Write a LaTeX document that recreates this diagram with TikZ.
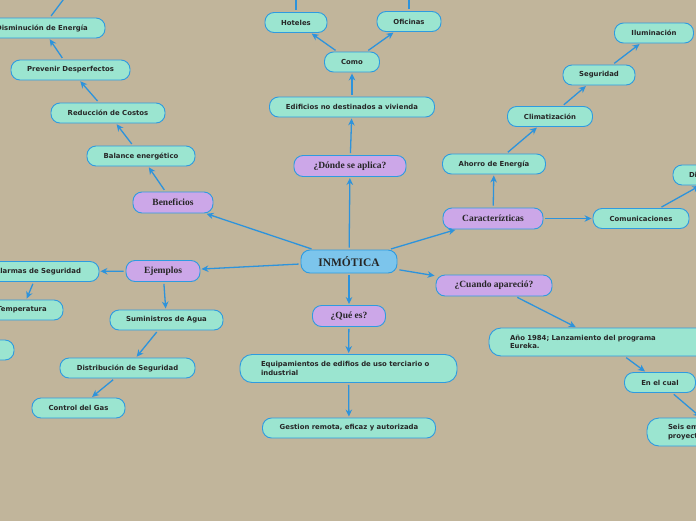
\documentclass[tikz,border=0pt]{standalone}
\usepackage{fontspec}
\usetikzlibrary{arrows.meta}
\newfontfamily\gfont{DejaVu Sans}
\newfontfamily\sfont{Liberation Serif}
\definecolor{bgc}{RGB}{193,181,155}
\definecolor{gfill}{RGB}{155,229,208}
\definecolor{pfill}{RGB}{204,167,232}
\definecolor{mfill}{RGB}{124,197,236}
\definecolor{edge}{RGB}{46,155,224}
\definecolor{lnc}{RGB}{45,147,220}
\tikzset{
 gn/.style={draw=edge, fill=gfill, line width=0.9pt, rounded corners=9pt, minimum height=20pt, inner sep=0pt, font=\gfont\bfseries\fontsize{6.9}{8.3}\selectfont, text=black!85},
 gml/.style={gn, align=left, inner xsep=21pt, minimum height=28pt, rounded corners=12pt},
 pn/.style={draw=edge, fill=pfill, line width=0.9pt, rounded corners=9pt, minimum height=21pt, inner sep=0pt, font=\sfont\bfseries\fontsize{9.5}{11}\selectfont, text=black!85},
 mn/.style={pn, fill=mfill, minimum height=23pt, font=\sfont\bfseries\fontsize{11.5}{13}\selectfont},
 con/.style={draw=lnc, line width=1.3pt, -{Stealth[length=7pt,width=6.5pt]}, shorten <=2pt, shorten >=1pt},
}
\begin{document}
\begin{tikzpicture}[x=1pt,y=-1pt]
\useasboundingbox (0,0) rectangle (696,520);
\clip (0,0) rectangle (696,520);
\fill[bgc] (-10,-10) rectangle (706,530);
% center
\node[mn, minimum width=96pt] (inm) at (349,261.5) {INMÓTICA};
% top branch
\node[pn, minimum width=112pt] (donde) at (350,166) {¿Dónde se aplica?};
\node[gn, minimum width=165pt] (edif) at (352,107) {Edificios no destinados a vivienda};
\node[gn, minimum width=55pt] (como) at (352,62) {Como};
\node[gn, minimum width=62pt] (hot) at (296,22.5) {Hoteles};
\node[gn, minimum width=64pt] (ofi) at (409,21.5) {Oficinas};
\coordinate (hotup) at (296,-30);
\coordinate (ofiup) at (409,-30);
% right branch
\node[pn, minimum width=100pt] (carac) at (493,218.5) {Caracterízticas};
\node[gn, minimum width=103pt] (ahorro) at (494,164) {Ahorro de Energía};
\node[gn, minimum width=85pt] (clima) at (550,116.5) {Climatización};
\node[gn, minimum width=72pt] (segu) at (599,75) {Seguridad};
\node[gn, minimum width=79pt] (ilum) at (654,33) {Iluminación};
\node[gn, minimum width=96pt] (comu) at (641,218.5) {Comunicaciones};
\node[gn, align=left, inner xsep=16pt, text width=60pt] (dif) at (719,175) {Difusión};
% cuando branch
\node[pn, minimum width=116pt] (cuando) at (494,285.5) {¿Cuando apareció?};
\node[gml, text width=190pt] (anio) at (605,342) {Año 1984; Lanzamiento del programa\\Eureka.};
\node[gn, minimum width=71pt] (cual) at (660,382.5) {En el cual};
\node[gml, text width=100pt] (seis) at (718,432) {Seis empresas\\proyectos};
% que es branch
\node[pn, minimum width=73pt] (que) at (349,316) {¿Qué es?};
\node[gml, text width=175pt] (equip) at (348.5,368.5) {Equipamientos de edifios de uso terciario o\\industrial};
\node[gn, minimum width=173pt] (gest) at (349,428) {Gestion remota, eficaz y autorizada};
% beneficios branch
\node[pn, minimum width=80pt] (bene) at (173,202.5) {Beneficios};
\node[gn, minimum width=108pt] (bal) at (141,156) {Balance energético};
\node[gn, minimum width=114pt] (red) at (108,113) {Reducción de Costos};
\node[gn, minimum width=119pt] (prev) at (70.5,70) {Prevenir Desperfectos};
\node[gn, minimum width=126pt] (dism) at (42,28) {Disminución de Energía};
\coordinate (dismup) at (72,-12);
% ejemplos branch
\node[pn, minimum width=74pt] (ejem) at (163,271) {Ejemplos};
\node[gn, minimum width=122pt] (alar) at (38,271.5) {Alarmas de Seguridad};
\node[gn, minimum width=82pt] (temp) at (22,310) {Temperatura};
\node[gn, minimum width=88pt] (otro) at (-30,350) {Iluminación};
\node[gn, minimum width=113pt] (sumi) at (166.5,320) {Suministros de Agua};
\node[gn, minimum width=135pt] (dist) at (127.5,368) {Distribución de Seguridad};
\node[gn, minimum width=93pt] (gas) at (78.5,408) {Control del Gas};
% connectors
\draw[con] (inm) -- (donde);
\draw[con] (donde) -- (edif);
\draw[con] (edif) -- (como);
\draw[con] (como) -- (hot);
\draw[con] (como) -- (ofi);
\draw[con] (hot) -- (hotup);
\draw[con] (ofi) -- (ofiup);
\draw[con] (inm) -- (carac);
\draw[con] (carac) -- (ahorro);
\draw[con] (ahorro) -- (clima);
\draw[con] (clima) -- (segu);
\draw[con] (segu) -- (ilum);
\draw[con] (carac) -- (comu);
\draw[con] (comu) -- (dif);
\draw[con] (inm) -- (cuando);
\draw[con] (cuando) -- (anio);
\draw[con] (anio) -- (cual);
\draw[con] (cual) -- (seis);
\draw[con] (inm) -- (que);
\draw[con] (que) -- (equip);
\draw[con] (equip) -- (gest);
\draw[con] (inm) -- (bene);
\draw[con] (bene) -- (bal);
\draw[con] (bal) -- (red);
\draw[con] (red) -- (prev);
\draw[con] (prev) -- (dism);
\draw[con] (dism) -- (dismup);
\draw[con] (inm) -- (ejem);
\draw[con] (ejem) -- (alar);
\draw[con] (ejem) -- (sumi);
\draw[con] (alar) -- (temp);
\draw[con] (sumi) -- (dist);
\draw[con] (dist) -- (gas);
\end{tikzpicture}
\end{document}
